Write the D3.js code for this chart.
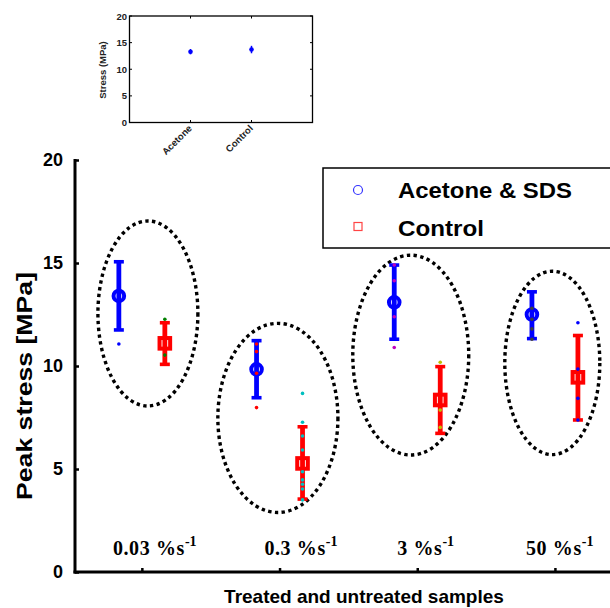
<!DOCTYPE html>
<html>
<head>
<meta charset="utf-8">
<script src="https://cdn.jsdelivr.net/npm/d3@7"></script>
<style>
  body { margin: 0; background: #fff; }
  svg { display: block; }
  .sans { font-family: "Liberation Sans", Arial, sans-serif; font-weight: bold; }
  .serif { font-family: "Liberation Serif", "Times New Roman", serif; font-weight: bold; }
</style>
</head>
<body>
<div id="chart"></div>
<script>
// strain rates (categories) and the two series
var categories = ["0.03", "0.3", "3", "50"];
var seriesNames = ["Acetone & SDS", "Control"];

var acetoneMean = [13.4, 9.84, 13.09, 12.5];
var acetoneLow  = [11.75, 8.46, 11.3, 11.33];
var acetoneHigh = [15.06, 11.23, 14.9, 13.6];

var controlMean = [11.1, 5.27, 8.35, 9.45];
var controlLow  = [10.08, 3.54, 6.73, 7.38];
var controlHigh = [12.1, 7.05, 9.97, 11.48];

// individual samples drawn as small dots
var acetoneSamples = [[11.07], [11.07, 10.7, 9.65, 7.98], [14.9, 14.14, 12.39, 10.9], [12.8, 12.27, 11.8, 11.3]];
var controlSamples = [[12.27, 10.53], [8.67, 7.27, 6.6, 5.92, 4.87, 4.47, 4.26, 4.03, 3.5], [10.18, 7.86, 7.02], [12.1, 9.85, 8.43, 7.38]];

// dotted ellipses around each group (centre / radii in data units)
var ellipseCx = [1.044, 1.988, 2.953, 3.981];
var ellipseCy = [12.55, 7.48, 10.53, 10.15];
var ellipseRx = [0.363, 0.436, 0.421, 0.345];
var ellipseRy = [4.49, 4.59, 4.85, 4.45];

// where each rate label starts (data units)
var labelX = [0.79, 1.89, 2.855, 3.79];

var yTicks = [0, 5, 10, 15, 20];

// inset
var insetCategories = ["Acetone", "Control"];
var insetMean = [13.3, 13.7];
var insetErr = [0.5, 0.7];

var width = 610, height = 608;

var svg = d3.select("#chart").append("svg")
    .attr("width", width)
    .attr("height", height);

var x = d3.scaleLinear().domain([0.5, 4.4]).range([73, 610]);
var y = d3.scaleLinear().domain([0, 20]).range([572, 160]);
var off = 0.167;

var sampleColorsA = ["#0000ff", "#ff0000", "#bf00bf", "#404040"];
var sampleColorsC = ["#008000", "#00bfbf", "#bfbf00", "#0000ff"];

// ellipses
svg.append("g").selectAll("ellipse")
    .data(categories)
    .enter().append("ellipse")
    .attr("cx", function (d, i) { return x(ellipseCx[i]); })
    .attr("cy", function (d, i) { return y(ellipseCy[i]); })
    .attr("rx", function (d, i) { return x(ellipseCx[i] + ellipseRx[i]) - x(ellipseCx[i]); })
    .attr("ry", function (d, i) { return y(0) - y(ellipseRy[i]); })
    .attr("fill", "none")
    .attr("stroke", "#000")
    .attr("stroke-width", 3.4)
    .attr("stroke-dasharray", "3.4,3.4");

// axes
var yAxis = d3.axisRight(y).tickValues(yTicks).tickSize(4).tickFormat("");
svg.append("g")
    .attr("transform", "translate(75,0)")
    .call(yAxis)
    .call(function (g) {
        g.select(".domain").attr("stroke-width", 3).attr("d", "M0," + (y(20) - 1) + "V" + (y(0) + 1.5));
        g.selectAll(".tick line").attr("stroke-width", 2.5);
    });

svg.append("g").selectAll("text")
    .data(yTicks)
    .enter().append("text")
    .attr("class", "sans")
    .attr("x", 63)
    .attr("y", function (d) { return y(d) + 6; })
    .attr("text-anchor", "end")
    .attr("font-size", 18)
    .text(function (d) { return d; });

var xAxis = d3.axisTop(x).tickValues([1, 2, 3, 4]).tickSize(4).tickFormat("");
svg.append("g")
    .attr("transform", "translate(0,572)")
    .call(xAxis)
    .call(function (g) {
        g.select(".domain").attr("stroke-width", 3).attr("d", "M73.5,0H610");
        g.selectAll(".tick line").attr("stroke-width", 2.5);
    });

// rate labels
var rl = svg.append("g").selectAll("text")
    .data(categories)
    .enter().append("text")
    .attr("class", "serif")
    .attr("x", function (d, i) { return x(labelX[i]); })
    .attr("y", 555)
    .attr("font-size", 20);
rl.append("tspan").text(function (d) { return d + " %s"; })
    .attr("letter-spacing", 0.6);
rl.append("tspan").attr("dy", -9).attr("font-size", 14).text("-1");

svg.append("text")
    .attr("class", "sans")
    .attr("x", 364)
    .attr("y", 603)
    .attr("text-anchor", "middle")
    .attr("font-size", 19)
    .text("Treated and untreated samples");

svg.append("text")
    .attr("class", "sans")
    .attr("transform", "translate(32,386) rotate(-90)")
    .attr("text-anchor", "middle")
    .attr("font-size", 22)
    .attr("textLength", 228)
    .attr("lengthAdjust", "spacingAndGlyphs")
    .text("Peak stress [MPa]");

// error bars + markers
function drawSeries(mean, low, high, dx, color, shape) {
    var g = svg.append("g");
    var bar = g.selectAll(".bar").data(mean).enter().append("g");
    bar.append("line")
        .attr("x1", function (d, i) { return x(i + 1 + dx); })
        .attr("x2", function (d, i) { return x(i + 1 + dx); })
        .attr("y1", function (d, i) { return y(low[i]); })
        .attr("y2", function (d, i) { return y(high[i]); })
        .attr("stroke", color).attr("stroke-width", 4.8);
    [low, high].forEach(function (arr) {
        bar.append("line")
            .attr("x1", function (d, i) { return x(i + 1 + dx) - 5; })
            .attr("x2", function (d, i) { return x(i + 1 + dx) + 5; })
            .attr("y1", function (d, i) { return y(arr[i]); })
            .attr("y2", function (d, i) { return y(arr[i]); })
            .attr("stroke", color).attr("stroke-width", 3.6);
    });
    if (shape === "circle") {
        bar.append("circle")
            .attr("cx", function (d, i) { return x(i + 1 + dx); })
            .attr("cy", function (d) { return y(d); })
            .attr("r", 5.3)
            .attr("fill", "none")
            .attr("stroke", color).attr("stroke-width", 4);
    } else {
        bar.append("rect")
            .attr("x", function (d, i) { return x(i + 1 + dx) - 5.3; })
            .attr("y", function (d) { return y(d) - 5.3; })
            .attr("width", 10.6).attr("height", 10.6)
            .attr("fill", "none")
            .attr("stroke", color).attr("stroke-width", 4);
    }
}
drawSeries(acetoneMean, acetoneLow, acetoneHigh, -off, "#0000ff", "circle");
drawSeries(controlMean, controlLow, controlHigh, off, "#ff0000", "square");

function drawSamples(samples, dx, colors) {
    samples.forEach(function (vals, i) {
        svg.append("g").selectAll("circle")
            .data(vals)
            .enter().append("circle")
            .attr("cx", x(i + 1 + dx))
            .attr("cy", function (d) { return y(d); })
            .attr("r", 1.8)
            .attr("fill", colors[i]);
    });
}
drawSamples(acetoneSamples, -off, sampleColorsA);
drawSamples(controlSamples, off, sampleColorsC);

// legend
var legendLen = [174, 86];
var lg = svg.append("g").attr("transform", "translate(323,168)");
lg.append("rect")
    .attr("width", 292).attr("height", 80)
    .attr("fill", "#fff").attr("stroke", "#000").attr("stroke-width", 1.5);
lg.append("circle").attr("cx", 35).attr("cy", 22).attr("r", 4.5)
    .attr("fill", "none").attr("stroke", "#3333ff").attr("stroke-width", 1.2);
lg.append("rect").attr("x", 31).attr("y", 54.5).attr("width", 8).attr("height", 8)
    .attr("fill", "none").attr("stroke", "#ff4444").attr("stroke-width", 1.2);
lg.selectAll(".lt").data(seriesNames).enter().append("text")
    .attr("class", "sans")
    .attr("x", 75)
    .attr("y", function (d, i) { return 30 + i * 38; })
    .attr("font-size", 21.5)
    .attr("textLength", function (d, i) { return legendLen[i]; })
    .attr("lengthAdjust", "spacingAndGlyphs")
    .text(function (d) { return d; });

// inset
var ix = d3.scaleLinear().domain([0, 3]).range([129.5, 312.5]);
var iy = d3.scaleLinear().domain([0, 20]).range([122.5, 16]);
var inset = svg.append("g");
inset.append("rect")
    .attr("x", 129.5).attr("y", 16).attr("width", 183).attr("height", 106.5)
    .attr("fill", "none").attr("stroke", "#000").attr("stroke-width", 1.3);
yTicks.forEach(function (t) {
    inset.append("line").attr("x1", 129.5).attr("x2", 132).attr("y1", iy(t)).attr("y2", iy(t)).attr("stroke", "#000");
    inset.append("line").attr("x1", 310).attr("x2", 312.5).attr("y1", iy(t)).attr("y2", iy(t)).attr("stroke", "#000");
});
inset.selectAll(".itl").data(yTicks).enter().append("text")
    .attr("class", "sans")
    .attr("x", 127)
    .attr("y", function (d) { return iy(d) + 3.5; })
    .attr("text-anchor", "end")
    .attr("font-size", 9.5)
    .attr("fill", "#222")
    .text(function (d) { return d; });
insetCategories.forEach(function (c, i) {
    inset.append("line").attr("x1", ix(i + 1)).attr("x2", ix(i + 1)).attr("y1", 16).attr("y2", 18.5).attr("stroke", "#000");
    inset.append("line").attr("x1", ix(i + 1)).attr("x2", ix(i + 1)).attr("y1", 120).attr("y2", 122.5).attr("stroke", "#000");
    inset.append("line")
        .attr("x1", ix(i + 1)).attr("x2", ix(i + 1))
        .attr("y1", iy(insetMean[i] - insetErr[i])).attr("y2", iy(insetMean[i] + insetErr[i]))
        .attr("stroke", "#0000ff").attr("stroke-width", 1.5);
    inset.append("circle")
        .attr("cx", ix(i + 1)).attr("cy", iy(insetMean[i])).attr("r", 2.3)
        .attr("fill", "#0000ff");
    inset.append("text")
        .attr("class", "sans")
        .attr("transform", "translate(" + (ix(i + 1) + 2) + ",129) rotate(-45)")
        .attr("text-anchor", "end")
        .attr("font-size", 9.5)
        .attr("fill", "#222")
        .text(c);
});
inset.append("text")
    .attr("class", "sans")
    .attr("transform", "translate(106,70) rotate(-90)")
    .attr("text-anchor", "middle")
    .attr("font-size", 9.5)
    .attr("fill", "#222")
    .text("Stress (MPa)");
</script>
</body>
</html>
